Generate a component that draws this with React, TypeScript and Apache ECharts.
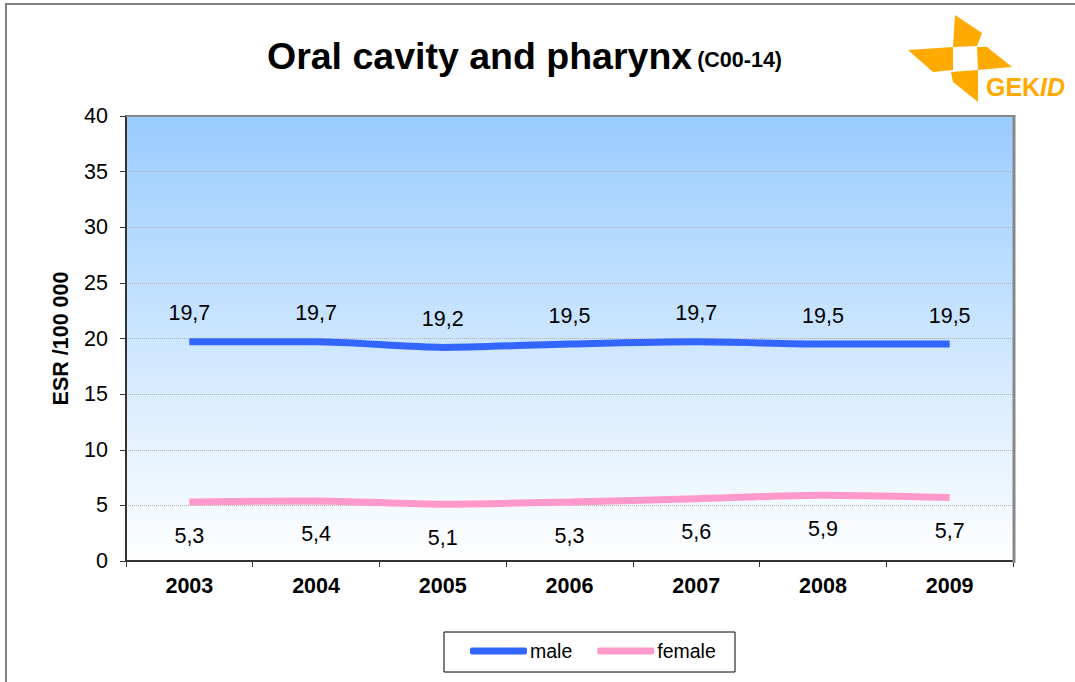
import React, { useEffect, useRef } from "react";
import * as echarts from "echarts";

const years = ["2003", "2004", "2005", "2006", "2007", "2008", "2009"];
const male = [19.7, 19.7, 19.2, 19.5, 19.7, 19.5, 19.5];
const female = [5.3, 5.4, 5.1, 5.3, 5.6, 5.9, 5.7];
const yTicks = { min: 0, max: 40, interval: 5 };

const FONT = "Arial, 'Liberation Sans', sans-serif";
const ORANGE = "#ffaa00";
const FS = 21.5;

export default function App() {
  const ref = useRef<HTMLDivElement>(null);
  useEffect(() => {
    if (!ref.current) return;
    const chart = echarts.init(ref.current, null, { renderer: "svg" });
    const fmt = (p: any) => String(p.value).replace(".", ",");
    chart.setOption({
      animation: false,
      backgroundColor: "#ffffff",
      textStyle: { fontFamily: FONT },
      title: {
        left: 267,
        top: 37,
        padding: 0,
        text: "{a|Oral cavity and pharynx} {b|(C00-14)}",
        textStyle: {
          rich: {
            a: { fontSize: 37.5, fontWeight: "bold", color: "#000", fontFamily: FONT },
            b: { fontSize: 21.5, fontWeight: "bold", color: "#000", fontFamily: FONT, padding: [8, 0, 0, 0] },
          },
        },
      },
      grid: {
        left: 126,
        right: 62,
        top: 116,
        bottom: 121,
        show: true,
        borderWidth: 0,
        backgroundColor: new echarts.graphic.LinearGradient(0, 0, 0, 1, [
          { offset: 0, color: "#99ccff" },
          { offset: 1, color: "#ffffff" },
        ]),
      },
      legend: {
        left: 470,
        top: 641,
        padding: 0,
        itemWidth: 57,
        itemHeight: 7,
        itemGap: 25,
        icon: "roundRect",
        textStyle: { fontSize: 19.5, color: "#000", fontFamily: FONT, padding: [0, 0, 0, -2] },
        data: ["male", "female"],
      },
      xAxis: {
        type: "category",
        data: years,
        boundaryGap: true,
        axisLine: { lineStyle: { color: "#333", width: 2 } },
        axisTick: { show: true, length: 6, lineStyle: { color: "#333", width: 1 } },
        axisLabel: { fontSize: FS, fontWeight: "bold", color: "#000", margin: 14, fontFamily: FONT },
      },
      yAxis: {
        type: "value",
        min: yTicks.min,
        max: yTicks.max,
        interval: yTicks.interval,
        name: "ESR /100 000",
        nameLocation: "middle",
        nameRotate: 90,
        nameGap: 54,
        nameTextStyle: { fontSize: FS, fontWeight: "bold", color: "#000", fontFamily: FONT },
        axisLine: { show: true, lineStyle: { color: "#333", width: 2 } },
        axisTick: { show: true, length: 6, lineStyle: { color: "#333", width: 1 } },
        axisLabel: { fontSize: FS, color: "#000", margin: 18, fontFamily: FONT },
        splitLine: { show: true, lineStyle: { color: "#b0b0b0", type: "dotted", width: 1 } },
      },
      series: [
        {
          name: "male",
          type: "line",
          data: male,
          smooth: 0.25,
          symbol: "circle",
          symbolSize: 1,
          itemStyle: { color: "#3366ff" },
          lineStyle: { color: "#3366ff", width: 7 },
          label: { show: true, position: "top", distance: 17, fontSize: FS, color: "#000", formatter: fmt, fontFamily: FONT },
        },
        {
          name: "female",
          type: "line",
          data: female,
          smooth: 0.25,
          symbol: "circle",
          symbolSize: 1,
          itemStyle: { color: "#ff99cc" },
          lineStyle: { color: "#ff99cc", width: 7 },
          label: { show: true, position: "bottom", distance: 22, fontSize: FS, color: "#000", formatter: fmt, fontFamily: FONT },
        },
      ],
      graphic: [
        { type: "rect", shape: { x: 6, y: 4, width: 1200, height: 800 }, style: { fill: "none", stroke: "#808080", lineWidth: 2 }, silent: true, z: -1 },
        { type: "line", shape: { x1: 126, y1: 116, x2: 1014, y2: 116 }, style: { stroke: "#888", lineWidth: 2 }, z: 5 },
        { type: "line", shape: { x1: 1014, y1: 115, x2: 1014, y2: 563 }, style: { stroke: "#888", lineWidth: 3 }, z: 5 },
        { type: "rect", shape: { x: 444, y: 632, width: 291, height: 40 }, style: { fill: "none", stroke: "#000", lineWidth: 1 }, z: 5 },
        { type: "polygon", shape: { points: [[955, 15], [982, 33], [977, 46], [953, 47]] }, style: { fill: ORANGE } },
        { type: "polygon", shape: { points: [[977, 47], [987, 47], [1012, 67], [978, 70]] }, style: { fill: ORANGE } },
        { type: "polygon", shape: { points: [[908, 50], [953, 47], [953, 70], [933, 72]] }, style: { fill: ORANGE } },
        { type: "polygon", shape: { points: [[951, 72], [978, 70], [978, 102], [953, 82]] }, style: { fill: ORANGE } },
        { type: "text", x: 986, y: 74, style: { text: "GEK", fontSize: 25, fontWeight: "bold", fill: ORANGE, fontFamily: FONT } },
        { type: "text", x: 1040, y: 74, style: { text: "ID", fontSize: 25, fontWeight: "bold", fontStyle: "italic", fill: ORANGE, fontFamily: FONT } },
      ],
    });
    return () => chart.dispose();
  }, []);
  return <div ref={ref} style={{ position: "fixed", left: 0, top: 0, width: 1075, height: 682 }} />;
}
